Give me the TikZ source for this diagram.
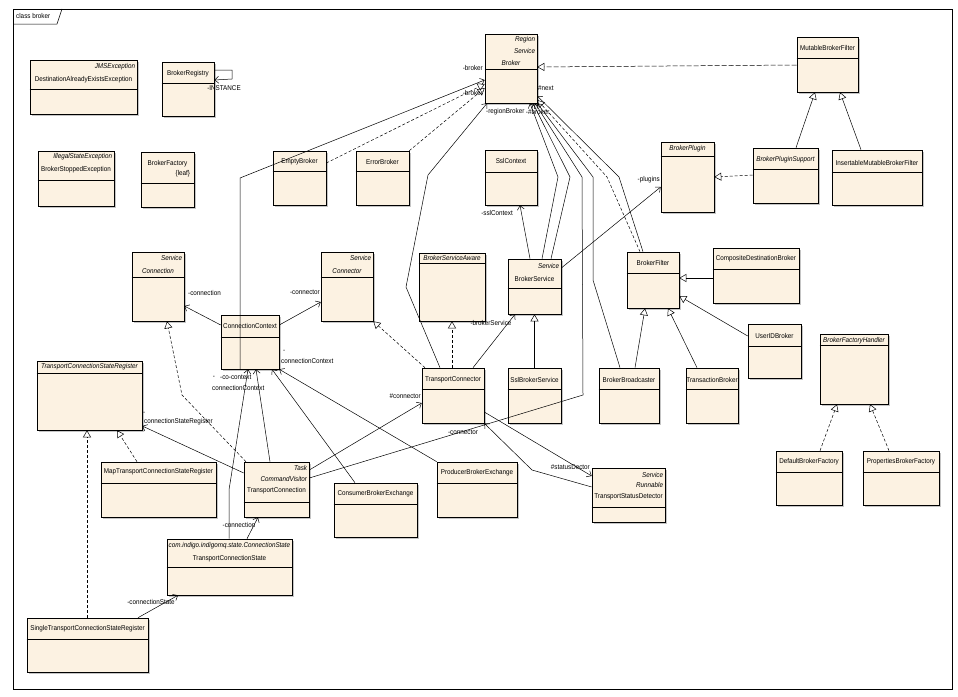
\documentclass[tikz,border=0pt]{standalone}
\usepackage{fontspec}
\setmainfont{Liberation Sans}[FakeStretch=0.9]
\usetikzlibrary{positioning,fit,shadows,arrows.meta}
\definecolor{classfill}{RGB}{252,242,226}

\begin{document}
\begin{tikzpicture}[
    x=1pt,y=-1pt,
    umlclass/.style={
      draw,fill=classfill,inner sep=0pt,line width=0.6pt,
      drop shadow={shadow xshift=1.6pt,shadow yshift=-1.6pt,fill=black!45}
    },
    cname/.style={font=\fontsize{7}{8}\selectfont,inner sep=0pt},
    stereo/.style={font=\fontsize{7}{8}\selectfont\itshape,inner sep=0pt,anchor=east,xshift=-2pt},
    role/.style={font=\fontsize{7}{8}\selectfont,inner sep=0pt},
    assoc/.style={draw,line width=0.5pt,-{Straight Barb[length=4pt,width=7pt]}},
    inherit/.style={draw,line width=0.5pt,-{Triangle[open,length=7pt,width=8pt]}},
    realize/.style={inherit,dash pattern=on 3pt off 2pt}
  ]
    \useasboundingbox (0,0) rectangle (958,696);

    \draw[line width=0.6pt] (13,9) rectangle (952,689);
    \draw[line width=0.5pt] (13,24) -- (57,24) -- (62,9);
    \node[role,anchor=west] (frametitle) at (16,16) {class broker};

    \foreach \id/\xa/\ya/\xb/\yb/\hy in {
      jmsexc/30/60/137/114/89,
      registry/162/62/214/116/83,
      stopped/38/151/114/206/180,
      factory/141/152/194/207/183,
      empty/273/151/326/205/171,
      error/356/151/409/205/171,
      broker/485/34/537/103/69,
      sslctx/485/150/537/205/172,
      mutable/797/37/858/92/58,
      plugin/661/142/714/212/156,
      pluginsup/753/148/818/203/169,
      insertable/832/150/922/205/172,
      connection/132/252/184/321/277,
      context/221/315/279/369/337,
      register/37/361/142/430/373,
      connector/321/252/373/321/277,
      aware/419/253/485/321/263,
      service/508/259/561/314/288,
      tconnector/422/368/484/423/389,
      sslservice/508/368/561/423/389,
      broadcaster/599/368/659/423/389,
      filter/627/252/679/308/273,
      composite/713/248/799/303/269,
      userid/748/324/801/378/346,
      transaction/686/368/738/423/389,
      handler/820/334/888/404/345,
      defaultfac/776/451/842/505/472,
      propfac/863/451/939/505/472,
      detector/592/468/665/522/507,
      producer/437/462/517/517/483,
      consumer/334/483/417/537/504,
      tconnection/244/462/309/517/502,
      mapregister/101/462/216/517/483,
      connstate/167/539/292/595/567,
      singlereg/27/618/148/672/639%
    } {
      \node[umlclass,fit={(\xa,\ya) (\xb,\yb)}] (\id) {};
      \draw[line width=0.6pt] (\id.west |- 0,\hy) -- (\id.east |- 0,\hy);
    }

    \node[stereo] (jmsexcS) at (jmsexc.east |- 0,67) {JMSException};
    \node[cname] (jmsexcN) at (jmsexc.north |- 0,80) {DestinationAlreadyExistsException};
    \node[cname] (registryN) at (registry.north |- 0,74) {BrokerRegistry};
    \node[stereo] (stoppedS) at (stopped.east |- 0,157) {IllegalStateException};
    \node[cname] (stoppedN) at (stopped.north |- 0,170) {BrokerStoppedException};
    \node[cname] (factoryN) at (factory.north |- 0,164) {BrokerFactory};
    \node[cname,anchor=east,xshift=-4pt] (factoryL) at (factory.east |- 0,174) {\{leaf\}};
    \node[cname] (emptyN) at (empty.north |- 0,162) {EmptyBroker};
    \node[cname] (errorN) at (error.north |- 0,162) {ErrorBroker};
    \node[stereo] (brokerS1) at (broker.east |- 0,40) {Region};
    \node[stereo] (brokerS2) at (broker.east |- 0,51) {Service};
    \node[cname] (brokerN) at (broker.north |- 0,63) {\itshape Broker};
    \node[cname] (sslctxN) at (sslctx.north |- 0,161) {SslContext};
    \node[cname] (mutableN) at (mutable.north |- 0,48) {MutableBrokerFilter};
    \node[cname] (pluginN) at (plugin.north |- 0,149) {\itshape BrokerPlugin};
    \node[cname] (pluginsupN) at (pluginsup.north |- 0,160) {\itshape BrokerPluginSupport};
    \node[cname] (insertableN) at (insertable.north |- 0,163) {InsertableMutableBrokerFilter};
    \node[stereo] (connectionS) at (connection.east |- 0,258) {Service};
    \node[cname] (connectionN) at (connection.north |- 0,271) {\itshape Connection};
    \node[cname] (contextN) at (context.north |- 0,326) {ConnectionContext};
    \node[cname] (registerN) at (register.north |- 0,367) {\itshape TransportConnectionStateRegister};
    \node[stereo] (connectorS) at (connector.east |- 0,258) {Service};
    \node[cname] (connectorN) at (connector.north |- 0,271) {\itshape Connector};
    \node[cname] (awareN) at (aware.north |- 0,258) {\itshape BrokerServiceAware};
    \node[stereo] (serviceS) at (service.east |- 0,266) {Service};
    \node[cname] (serviceN) at (service.north |- 0,279) {BrokerService};
    \node[cname] (tconnectorN) at (tconnector.north |- 0,380) {TransportConnector};
    \node[cname] (sslserviceN) at (sslservice.north |- 0,380) {SslBrokerService};
    \node[cname] (broadcasterN) at (broadcaster.north |- 0,380) {BrokerBroadcaster};
    \node[cname] (filterN) at (filter.north |- 0,263) {BrokerFilter};
    \node[cname] (compositeN) at (composite.north |- 0,259) {CompositeDestinationBroker};
    \node[cname] (useridN) at (userid.north |- 0,336) {UserIDBroker};
    \node[cname] (transactionN) at (transaction.north |- 0,380) {TransactionBroker};
    \node[cname] (handlerN) at (handler.north |- 0,341) {\itshape BrokerFactoryHandler};
    \node[cname] (defaultfacN) at (defaultfac.north |- 0,462) {DefaultBrokerFactory};
    \node[cname] (propfacN) at (propfac.north |- 0,462) {PropertiesBrokerFactory};
    \node[stereo] (detectorS1) at (detector.east |- 0,475) {Service};
    \node[stereo] (detectorS2) at (detector.east |- 0,485) {Runnable};
    \node[cname] (detectorN) at (detector.north |- 0,497) {TransportStatusDetector};
    \node[cname] (producerN) at (producer.north |- 0,473) {ProducerBrokerExchange};
    \node[cname] (consumerN) at (consumer.north |- 0,494) {ConsumerBrokerExchange};
    \node[stereo] (tconnectionS1) at (tconnection.east |- 0,468) {Task};
    \node[stereo] (tconnectionS2) at (tconnection.east |- 0,479) {CommandVisitor};
    \node[cname] (tconnectionN) at (tconnection.north |- 0,491) {TransportConnection};
    \node[cname] (mapregisterN) at (mapregister.north |- 0,472) {MapTransportConnectionStateRegister};
    \node[cname] (connstateS) at (connstate.north |- 0,546) {\itshape com.indigo.indigomq.state.ConnectionState};
    \node[cname] (connstateN) at (connstate.north |- 0,559) {TransportConnectionState};
    \node[cname] (singleregN) at (singlereg.north |- 0,629) {SingleTransportConnectionStateRegister};

    \draw[assoc] (registry.east |- 0,70) -- (232,70) -- (232,79) -- (registry.east |- 0,80);
    \node[role] (instanceL) at (224,88) {-INSTANCE};

    \draw[assoc] (context.south -| 240,0) -- (240,178) -- (broker.west |- 0,80);
    \draw[realize] (empty.east |- 0,163) -- (broker.west |- 0,84);
    \draw[realize] (error.north east) -- (broker.west |- 0,88);
    \draw[assoc] (tconnector.north -| 440,0) -- (406,287) -- (428,175) -- (broker.south -| 487,0);
    \node[role,anchor=east] (brokerL1) at (483,68) {-broker};
    \node[role,anchor=east] (brokerL2) at (483,93) {-broker};

    \draw[assoc] (service.north -| 542,0) -- (558,177) -- (broker.south -| 530,0);
    \draw[assoc] (service.north -| 551,0) -- (570,177) -- (broker.south -| 533,0);
    \draw[assoc] (tconnection.east |- 0,478) -- (583,395) -- (582,177) -- (broker.south -| 535,0);
    \draw[assoc] (broadcaster.north -| 620,0) -- (593,280) -- (593,177) -- (broker.south east);
    \draw[realize] (filter.north -| 640,0) -- (607,177) -- (broker.east |- 0,100);
    \draw[assoc] (filter.north -| 643,0) -- (619,177) -- (broker.east |- 0,96);
    \node[role,anchor=west] (regionL) at (486,112) {-regionBroker};
    \node[role,anchor=west] (hashbrokerL) at (regionL.east) {\,-\#broker};
    \node[role,anchor=west] (nextL) at (538,88) {\#next};

    \draw[realize,dash pattern=on 5pt off 2pt] (mutable.west |- 0,65) -- (broker.east |- 0,67);
    \draw[realize] (pluginsup.west |- 0,175) -- (plugin.east |- 0,177);
    \draw[inherit] (pluginsup.north -| 796,0) -- (mutable.south -| 815,0);
    \draw[inherit] (insertable.north -| 861,0) -- (mutable.south -| 840,0);

    \draw[assoc] (service.east |- 0,268) -- (plugin.west |- 0,187);
    \node[role,anchor=east] (pluginsL) at (660,180) {-plugins};
    \draw[assoc] (service.north -| 530,0) -- (sslctx.south -| 520,0);
    \node[role,anchor=east] (sslctxL) at (513,213) {-sslContext};
    \draw[inherit] (sslservice.north) -- (service.south);

    \draw[realize] (tconnector.north -| 452,0) -- (aware.south -| 452,0);
    \draw[realize] (tconnector.north -| 425,0) -- (connector.south east);
    \draw[assoc] (tconnector.north -| 473,0) -- (service.south -| 515,0);
    \node[role] (brokerserviceL) at (491,323) {-brokerService};

    \draw[inherit] (broadcaster.north -| 635,0) -- (filter.south -| 645,0);
    \draw[inherit] (transaction.north -| 697,0) -- (filter.south -| 668,0);
    \draw[inherit] (userid.west |- 0,336) -- (filter.east |- 0,296);
    \draw[inherit] (composite.west |- 0,278) -- (filter.east |- 0,278);

    \draw[realize] (defaultfac.north -| 820,0) -- (handler.south -| 837,0);
    \draw[realize] (propfac.north -| 889,0) -- (handler.south -| 870,0);

    \draw[assoc] (context.west |- 0,325) -- (connection.east |- 0,306);
    \node[role,anchor=west] (connectionL) at (188,293) {-connection};
    \draw[assoc] (context.east |- 0,325) -- (connector.west |- 0,302);
    \node[role,anchor=east] (connectorL) at (320,292) {-connector};

    \draw[realize] (tconnection.north -| 246,0) -- (182,395) -- (connection.south -| 167,0);
    \draw[realize] (mapregister.north -| 137,0) -- (register.south -| 117,0);
    \draw[realize] (singlereg.north -| 87,0) -- (register.south -| 87,0);

    \draw[assoc] (singlereg.north -| 138,0) -- (connstate.south -| 178,0);
    \node[role] (connstateL) at (151,602) {-connectionState};
    \draw[assoc] (connstate.north -| 247,0) -- (tconnection.south -| 258,0);
    \node[role] (tconnectionL) at (239,525) {-connection};
    \draw[assoc] (connstate.north -| 229,0) -- (229,490) -- (context.south -| 248,0);
    \draw[assoc] (tconnection.north -| 270,0) -- (context.south -| 256,0);
    \draw[assoc] (consumer.north -| 355,0) -- (context.south -| 272,0);
    \draw[assoc] (producer.north west) -- (context.south east);
    \node[role] (dashL1) at (214,377) {-};
    \node[role,anchor=west] (cocontextL) at (220,377) {-co-context};
    \node[role,anchor=west] (contextL1) at (212,388) {connectionContext};
    \node[role,anchor=west] (dashL2) at (283,351) {-};
    \node[role,anchor=west] (contextL2) at (281,361) {connectionContext};

    \draw[assoc] (tconnection.west |- 0,473) -- (register.east |- 0,426);
    \node[role,anchor=west] (dashL3) at (143,413) {-};
    \node[role,anchor=west] (registerL) at (144,422) {connectionStateRegister};

    \draw[assoc] (tconnection.east |- 0,470) -- (tconnector.west |- 0,403);
    \node[role,anchor=east] (hashconnectorL) at (421,396) {\#connector};
    \draw[assoc] (tconnector.east |- 0,412) -- (detector.west |- 0,476);
    \node[role,anchor=east] (statusL) at (590,467) {\#statusDector};
    \draw[assoc] (detector.west |- 0,487) -- (532,470) -- (tconnector.south east);
    \node[role] (connectorL2) at (463,432) {-connector};
  \end{tikzpicture}
\end{document}
